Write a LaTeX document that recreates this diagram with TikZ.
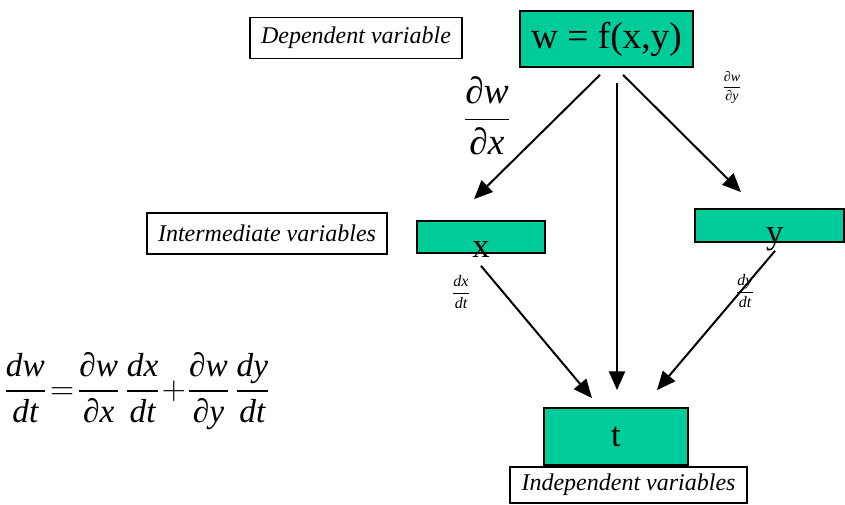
\documentclass[tikz,border=0pt]{standalone}
\usepackage{fix-cm}
\usepackage{amsmath}
\usepackage{fontspec}
\setmainfont{Liberation Serif}
\usepackage{tikz}
\usetikzlibrary{arrows.meta, calc}
\definecolor{boxgreen}{HTML}{00CC99}
\newcommand{\fsz}[1]{\fontsize{#1}{1.2\dimexpr#1pt\relax}\selectfont}
\newcommand{\fr}[2]{\ensuremath{\displaystyle\frac{\textit{#1}}{\textit{#2}}}}
\tikzset{
    gbox/.style={draw, line width=1.3pt, fill=boxgreen, inner sep=0pt},
    tbox/.style={draw, line width=1pt, fill=white, inner sep=0pt, font=\fsz{18}\itshape},
    lbl/.style={inner sep=0pt},
    bd/.style={line width=1.5pt, -{Triangle[length=14pt, width=12pt]}}
}

\begin{document}
\begin{tikzpicture}[x=0.75pt, y=-0.75pt]
        \useasboundingbox (0,0) rectangle (845,504);
        \node[tbox, minimum width=159pt, minimum height=30.75pt] (dep) at (356,38) {Dependent variable};
        \node[tbox, minimum width=180pt, minimum height=30.75pt] (inter) at (267,233.5) {Intermediate variables};
        \node[gbox, minimum width=129.75pt, minimum height=42pt, font=\fsz{28}] (w) at (606.5,39) {w = f(x,y)};
        \node[gbox, minimum width=96pt, minimum height=24pt,
              label={[anchor=base, yshift=-3pt, font=\fsz{26}]south:x}] (x) at (481,237) {};
        \node[gbox, minimum width=111.75pt, minimum height=24.75pt,
              label={[anchor=base, xshift=4pt, yshift=-0.5pt, font=\fsz{26}]south:y}] (y) at (769.5,225.5) {};
        \node[gbox, minimum width=108pt, minimum height=42.75pt, font=\fsz{26}] (t) at (616,436.5) {t};
        \node[tbox, minimum width=177.75pt, minimum height=27pt] (indep) at (628.5,485) {Independent variables};

        \node[lbl, font=\fsz{28}] (dwdx) at (487,116) {\fr{∂w}{∂x}};
        \node[lbl, font=\fsz{10.5}] (dwdy) at (732,87) {\fr{∂w}{∂y}};
        \node[lbl, font=\fsz{12}] (dxdt) at (461,292) {\fr{dx}{dt}};
        \node[lbl, font=\fsz{12}] (dydt) at (745,291) {\fr{dy}{dt}};
        \node[lbl, font=\fsz{25}] (chain) at (137,391)
            {$\fr{dw}{dt}\!=\!\fr{∂w}{∂x}\,\fr{dx}{dt}\!+\!\fr{∂w}{∂y}\,\fr{dy}{dt}$};

        \draw[bd] ($(w.south)+(-6.5,7)$) -- ($(x.north)+(-7,-21)$);
        \draw[bd] ($(w.south)+(10.5,15)$) -- ($(t.north)+(1,-17)$);
        \draw[bd] ($(w.south)+(16.5,7)$) -- ($(y.north)+(-28.5,-16)$);
        \draw[bd] ($(x.south)+(0,12)$) -- ($(t.north)+(-24,-9)$);
        \draw[bd] ($(y.south)+(5.5,8)$) -- ($(t.north)+(41,-17)$);
    \end{tikzpicture}
\end{document}
